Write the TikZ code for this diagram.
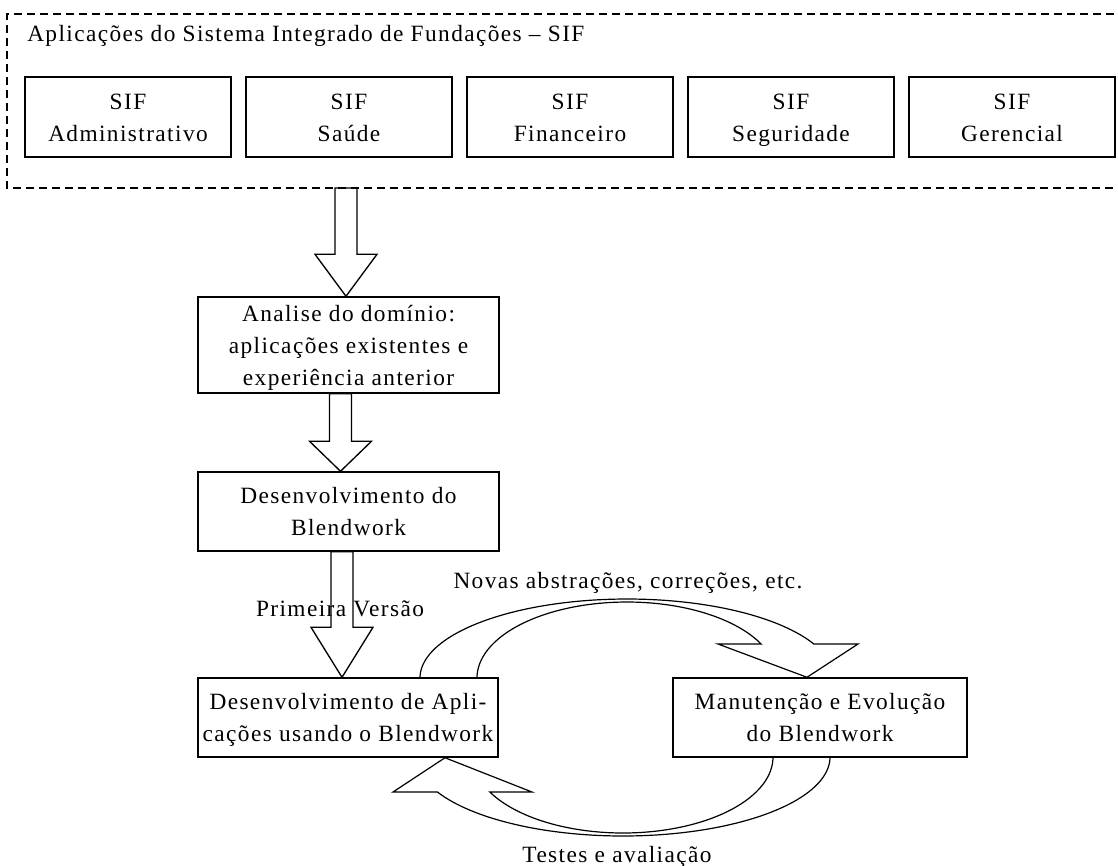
\documentclass[tikz,border=0pt]{standalone}
\usepackage{fontspec}
\setmainfont{Liberation Serif}[LetterSpace=6]
\usetikzlibrary{calc}

% widths of the hollow block arrows (shaft and head half widths)
\newdimen\shafthw \shafthw=8.25pt
\newdimen\headhw  \headhw=23.25pt

% hollow downward block arrow: #1 tail point, #2 tip point, #3 head length
\newcommand\blockdown[3]{%
  \draw[hollow] let \p1=(#1), \p2=(#2) in
    (\x1-\shafthw,\y1) -- (\x1-\shafthw,\y2+#3) -- (\x1-\headhw,\y2+#3) --
    (\x1,\y2) -- (\x1+\headhw,\y2+#3) -- (\x1+\shafthw,\y2+#3) --
    (\x1+\shafthw,\y1) -- cycle;}

% invisible struts so that every box text block has the same height and depth
\newcommand\topstrut{\rule{0pt}{15.8pt}}
\newcommand\botstrut{\vphantom{g}}

\begin{document}
\begin{tikzpicture}[x=0.75pt,y=-0.75pt,
  txt/.style={font=\fontsize{17.5}{24}\selectfont, inner sep=0pt},
  box/.style={txt, draw, line width=1.1pt, align=center},
  sifbox/.style={box, minimum width=154.5pt, minimum height=60pt},
  stagebox/.style={box, minimum height=59.25pt},
  hollow/.style={draw, line width=1pt, line join=miter},
  curved/.style={draw, line width=0.9pt, line join=miter},
  group/.style={draw, line width=1pt, dash pattern=on 6pt off 3.75pt}]

\fill[white] (0,0) rectangle (1118,865);
\useasboundingbox (0,0) rectangle (1118,865);
\clip (0,0) rectangle (1118,865);

% group of SIF applications (open to the right)
\draw[group] (1140,14) -- (7,14) -- (7,188) -- (1140,188);
\node[txt, anchor=base west] (title) at (27,41)
  {Aplicações do Sistema Integrado de Fundações – SIF};

\node[sifbox] (adm) at (128,117) {\topstrut SIF\\Administrativo\botstrut};
\node[sifbox] (sau) at (349,117) {\topstrut SIF\\Saúde\botstrut};
\node[sifbox] (fin) at (570,117) {\topstrut SIF\\Financeiro\botstrut};
\node[sifbox] (seg) at (791,117) {\topstrut SIF\\Seguridade\botstrut};
\node[sifbox] (ger) at (1012,117) {\topstrut SIF\\Gerencial\botstrut};

% process stages
\node[box, minimum width=225.75pt, minimum height=72pt] (ana) at (348.5,345)
  {\topstrut Analise do domínio:\\aplicações existentes e\\experiência anterior\botstrut};
\node[stagebox, minimum width=225.75pt] (des) at (348.5,511.5)
  {\topstrut Desenvolvimento do\\Blendwork\botstrut};
\node[stagebox, minimum width=225pt] (app) at (348,717.5)
  {\topstrut Desenvolvimento de Apli-\\cações usando o Blendwork\botstrut};
\node[stagebox, minimum width=220.5pt] (man) at (820,717.5)
  {\topstrut Manutenção e Evolução\\do Blendwork\botstrut};

% straight block arrows
\coordinate (g1) at (346,188);
\coordinate (g2) at (340.5,0 |- ana.south);
\coordinate (g3) at (342,0 |- des.south);
\blockdown{g1}{g1 |- ana.north}{31.5pt}
\blockdown{g2}{g2 |- des.north}{22.5pt}
\blockdown{g3}{g3 |- app.north}{37.5pt}

\node[txt, anchor=base] (first) at (340,616) {Primeira Versão};

% curved block arrow: applications -> maintenance
\draw[curved]
  plot[domain=180:334.51, samples=90] ({627+207*cos(\x)},{678+79*sin(\x)})
  -- (858,644) -- (807,678 |- man.north) -- (718,644)
  -- plot[domain=333.43:180, samples=90] ({627+150*cos(\x)},{678+76*sin(\x)});
\node[txt, anchor=base] (novas) at (628,588) {Novas abstrações, correções, etc.};

% curved block arrow: maintenance -> applications
\draw[curved]
  plot[domain=0:153.7, samples=90] ({623+207*cos(\x)},{757+79*sin(\x)})
  -- (393,792) -- (445,757 |- app.south) -- (532,792)
  -- plot[domain=152.58:0, samples=90] ({623+150*cos(\x)},{757+76*sin(\x)});
\node[txt, anchor=base] (testes) at (617,862) {Testes e avaliação};

\end{tikzpicture}
\end{document}
